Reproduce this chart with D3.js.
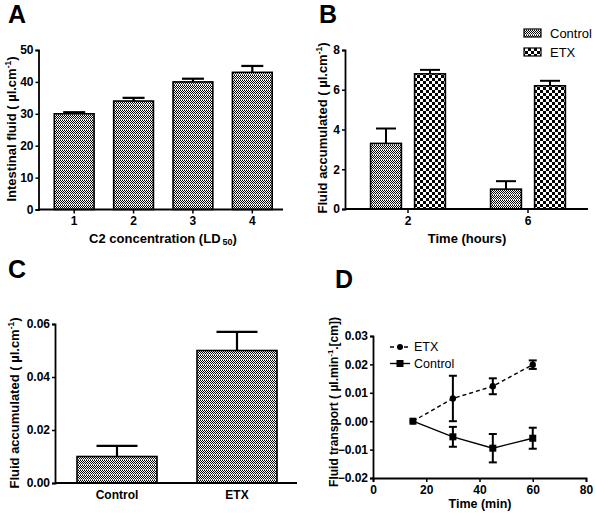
<!DOCTYPE html>
<html><head><meta charset="utf-8">
<script src="https://cdn.jsdelivr.net/npm/d3@7"></script>
<style>
body{margin:0;background:#fff}
svg{display:block;font-family:"Liberation Sans",Arial,sans-serif}
.tick text{font-weight:bold;font-size:12px;fill:#000}
</style></head><body>
<svg id="c" width="595" height="515"></svg>
<script>
// Panel A
const aCats = ["1","2","3","4"];
const aVals = [30, 34, 40, 43];
const aErr = [0.5, 1.0, 1.0, 2.0];
const aTicks = [0,10,20,30,40,50];
// Panel B
const bGroups = ["2","6"];
const bSeries = ["Control","ETX"];
const bControl = [3.3, 1.0];
const bControlErr = [0.75, 0.4];
const bETX = [6.8, 6.2];
const bETXErr = [0.2, 0.25];
const bTicks = [0,2,4,6,8];
// Panel C
const cCats = ["Control","ETX"];
const cVals = [0.010, 0.050];
const cErr = [0.004, 0.007];
const cTicks = [0,0.02,0.04,0.06];
// Panel D
const dTime = [15, 30, 45, 60];
const dETX = [0, 0.008, 0.0123, 0.0199];
const dETXErr = [0, 0.008, 0.0028, 0.0015];
const dControl = [0, -0.0055, -0.0095, -0.006];
const dControlErr = [0, 0.0035, 0.005, 0.0037];
const dYTicks = [-0.02,-0.01,0,0.01,0.02,0.03];
const dXTicks = [0,20,40,60,80];

const svg = d3.select("#c");
const defs = svg.append("defs");
// fine pattern
const pf = defs.append("pattern").attr("id","fine").attr("patternUnits","userSpaceOnUse").attr("width",2).attr("height",5);
pf.append("rect").attr("width",2).attr("height",5).attr("fill","#fff");
[[0,0],[1,1],[0,2],[1,3],[0,4]].forEach(([x,y])=>pf.append("rect").attr("x",x).attr("y",y).attr("width",1).attr("height",1).attr("fill", y===4?"#666":"#000"));
// coarse checker
const pc = defs.append("pattern").attr("id","coarse").attr("patternUnits","userSpaceOnUse").attr("width",6).attr("height",6);
pc.append("rect").attr("width",6).attr("height",6).attr("fill","#fff");
pc.append("rect").attr("x",0).attr("y",0).attr("width",3).attr("height",3).attr("fill","#000");
pc.append("rect").attr("x",3).attr("y",3).attr("width",3).attr("height",3).attr("fill","#000");

function styleAxis(g){
  g.selectAll(".domain").attr("stroke","#000").attr("stroke-width",1.8);
  g.selectAll(".tick line").attr("stroke","#000").attr("stroke-width",1.5);
}
function letter(t,x,y){svg.append("text").attr("x",x).attr("y",y).attr("font-size",25).attr("font-weight","bold").text(t);}
function ylabel(parts,x,y,fs){
  const t = svg.append("text").attr("transform",`translate(${x},${y}) rotate(-90)`).attr("text-anchor","middle")
    .attr("font-weight","bold").attr("font-size",fs).attr("dy","0.35em");
  parts.forEach(p=>{
    const s=t.append("tspan").text(p.t);
    if(p.sup){s.attr("font-size",fs*0.65).attr("dy",-5);}
    if(p.after){s.attr("dy",5);}
  });
}
function errBar(x,y0,y1,cw,sw){
  svg.append("line").attr("x1",x).attr("x2",x).attr("y1",y0).attr("y2",y1).attr("stroke","#000").attr("stroke-width",sw||2);
  svg.append("line").attr("x1",x-cw/2).attr("x2",x+cw/2).attr("y1",y1).attr("y2",y1).attr("stroke","#000").attr("stroke-width",sw||2);
}

// ---------- A ----------
{
  const x = d3.scaleBand().domain(aCats).range([44.5,282]).paddingInner(0.33).paddingOuter(0.165);
  const y = d3.scaleLinear().domain([0,50]).range([209.5,50]);
  aCats.forEach((c,i)=>{
    errBar(x(c)+x.bandwidth()/2, y(aVals[i]), y(aVals[i]+aErr[i]), 22, 2.2);
    svg.append("rect").attr("x",x(c)).attr("y",y(aVals[i])).attr("width",x.bandwidth()).attr("height",y(0)-y(aVals[i]))
      .attr("fill","url(#fine)").attr("stroke","#000").attr("stroke-width",1.6);
  });
  const gy = svg.append("g").attr("transform","translate(38.5,0)").call(d3.axisLeft(y).tickValues(aTicks).tickSize(3).tickPadding(2));
  styleAxis(gy);
  const gx = svg.append("g").attr("transform","translate(0,209.5)").call(d3.axisBottom(x).tickSize(4).tickPadding(3));
  gx.select(".domain").remove(); styleAxis(gx);
  svg.append("line").attr("x1",38.5).attr("x2",283).attr("y1",209.5).attr("y2",209.5).attr("stroke","#000").attr("stroke-width",1.8);
  letter("A",8,23);
  ylabel([{t:"Intestinal fluid ( µl.cm"},{t:"-1",sup:true},{t:")",after:true}],11,129,13);
  const xt = svg.append("text").attr("x",163).attr("y",243).attr("text-anchor","middle").attr("font-weight","bold").attr("font-size",13);
  xt.append("tspan").text("C2 concentration (LD");
  xt.append("tspan").text("50").attr("font-size",9).attr("dy",2).attr("dx",2);
  xt.append("tspan").text(")").attr("dy",-2);
}

// ---------- B ----------
{
  const x0 = d3.scaleBand().domain(bGroups).range([348,588]);
  const x1 = d3.scaleBand().domain(bSeries).range([-44,44]).paddingInner(0.3).paddingOuter(0.15);
  const y = d3.scaleLinear().domain([0,8]).range([209,50]);
  const sets = {Control:[bControl,bControlErr,"url(#fine)"], ETX:[bETX,bETXErr,"url(#coarse)"]};
  bGroups.forEach((g,i)=>{
    const cx = x0(g)+x0.bandwidth()/2;
    bSeries.forEach(s=>{
      const [v,e,f] = sets[s];
      const bx = cx + x1(s);
      errBar(bx+x1.bandwidth()/2, y(v[i]), y(v[i]+e[i]), 20, 2);
      svg.append("rect").attr("x",bx).attr("y",y(v[i])).attr("width",x1.bandwidth()).attr("height",y(0)-y(v[i]))
        .attr("fill",f).attr("stroke","#000").attr("stroke-width",1.6);
    });
  });
  const gy = svg.append("g").attr("transform","translate(345,0)").call(d3.axisLeft(y).tickValues(bTicks).tickSize(3).tickPadding(2));
  styleAxis(gy);
  const gx = svg.append("g").attr("transform","translate(0,209)").call(d3.axisBottom(x0).tickSize(4).tickPadding(3));
  gx.select(".domain").remove(); styleAxis(gx);
  svg.append("line").attr("x1",345).attr("x2",588).attr("y1",209).attr("y2",209).attr("stroke","#000").attr("stroke-width",1.8);
  letter("B",319,23);
  ylabel([{t:"Fluid accumulated ( µl.cm"},{t:"-1",sup:true},{t:")",after:true}],322,128,13);
  svg.append("text").attr("x",467).attr("y",243).attr("text-anchor","middle").attr("font-weight","bold").attr("font-size",13).text("Time (hours)");
  // legend
  bSeries.forEach((s,i)=>{
    const yy = 29 + i*19;
    svg.append("rect").attr("x",524).attr("y",yy).attr("width",17).attr("height",8).attr("fill",sets[s][2]).attr("stroke","#000").attr("stroke-width",1.2);
    svg.append("text").attr("x",550).attr("y",yy+4).attr("dy","0.35em").attr("font-size",13).text(s);
  });
}

// ---------- C ----------
{
  const x = d3.scaleBand().domain(cCats).range([57,297]).paddingInner(1/3).paddingOuter(1/6);
  const y = d3.scaleLinear().domain([0,0.06]).range([483,324]);
  cCats.forEach((c,i)=>{
    errBar(x(c)+x.bandwidth()/2, y(cVals[i]), y(cVals[i]+cErr[i]), 41, 2.2);
    svg.append("rect").attr("x",x(c)).attr("y",y(cVals[i])).attr("width",x.bandwidth()).attr("height",y(0)-y(cVals[i]))
      .attr("fill","url(#fine)").attr("stroke","#000").attr("stroke-width",1.6);
  });
  const gy = svg.append("g").attr("transform","translate(55,0)").call(d3.axisLeft(y).tickValues(cTicks).tickFormat(d3.format(".2f")).tickSize(3).tickPadding(2));
  styleAxis(gy);
  const gx = svg.append("g").attr("transform","translate(0,483)").call(d3.axisBottom(x).tickSize(0).tickPadding(7));
  gx.select(".domain").remove(); styleAxis(gx);
  svg.append("line").attr("x1",55).attr("x2",297).attr("y1",483).attr("y2",483).attr("stroke","#000").attr("stroke-width",1.8);
  letter("C",8,278);
  ylabel([{t:"Fluid accumulated ( µl.cm"},{t:"-1",sup:true},{t:")",after:true}],14,403,13);
}

// ---------- D ----------
{
  const x = d3.scaleLinear().domain([0,80]).range([373,586]);
  const y = d3.scaleLinear().domain([-0.02,0.03]).range([478,336]);
  const line = d3.line().x((d,i)=>x(dTime[i])).y(d=>y(d));
  svg.append("path").datum(dETX).attr("d",line).attr("fill","none").attr("stroke","#000").attr("stroke-width",1.4).attr("stroke-dasharray","4,3");
  svg.append("path").datum(dControl).attr("d",line).attr("fill","none").attr("stroke","#000").attr("stroke-width",1.4);
  [[dETX,dETXErr],[dControl,dControlErr]].forEach(([v,e])=>{
    v.forEach((d,i)=>{
      if(e[i]>0){
        const px=x(dTime[i]);
        svg.append("line").attr("x1",px).attr("x2",px).attr("y1",y(d-e[i])).attr("y2",y(d+e[i])).attr("stroke","#000").attr("stroke-width",2);
        [d-e[i],d+e[i]].forEach(t=>svg.append("line").attr("x1",px-4).attr("x2",px+4).attr("y1",y(t)).attr("y2",y(t)).attr("stroke","#000").attr("stroke-width",2));
      }
    });
  });
  dETX.forEach((d,i)=>svg.append("circle").attr("cx",x(dTime[i])).attr("cy",y(d)).attr("r",3.2).attr("fill","#000"));
  dControl.forEach((d,i)=>svg.append("rect").attr("x",x(dTime[i])-3.5).attr("y",y(d)-3.5).attr("width",7).attr("height",7).attr("fill","#000"));
  const gy = svg.append("g").attr("transform","translate(373,0)").call(d3.axisLeft(y).tickValues(dYTicks).tickFormat(d3.format(".2f")).tickSize(3).tickPadding(2));
  styleAxis(gy); gy.selectAll(".tick text").attr("font-size",11);
  const gx = svg.append("g").attr("transform","translate(0,478)").call(d3.axisBottom(x).tickValues(dXTicks).tickSize(4).tickPadding(3));
  styleAxis(gx); gx.selectAll(".tick text").attr("font-size",11);
  letter("D",335,288);
  ylabel([{t:"Fluid transport ( µl.min"},{t:"-1",sup:true},{t:".[cm])",after:true}],334,402,12);
  svg.append("text").attr("x",480).attr("y",508).attr("text-anchor","middle").attr("font-weight","bold").attr("font-size",12.5).text("Time (min)");
  // legend
  const lg = [["ETX",true],["Control",false]];
  lg.forEach(([t,dash],i)=>{
    const yy = 347 + i*16.5;
    svg.append("line").attr("x1",390).attr("x2",410).attr("y1",yy).attr("y2",yy).attr("stroke","#000").attr("stroke-width",1.4).attr("stroke-dasharray",dash?"4,3":null);
    if(dash) svg.append("circle").attr("cx",400).attr("cy",yy).attr("r",3).attr("fill","#000");
    else svg.append("rect").attr("x",396.5).attr("y",yy-3.5).attr("width",7).attr("height",7).attr("fill","#000");
    svg.append("text").attr("x",414).attr("y",yy).attr("dy","0.35em").attr("font-size",12.5).text(t);
  });
}
</script></body></html>
